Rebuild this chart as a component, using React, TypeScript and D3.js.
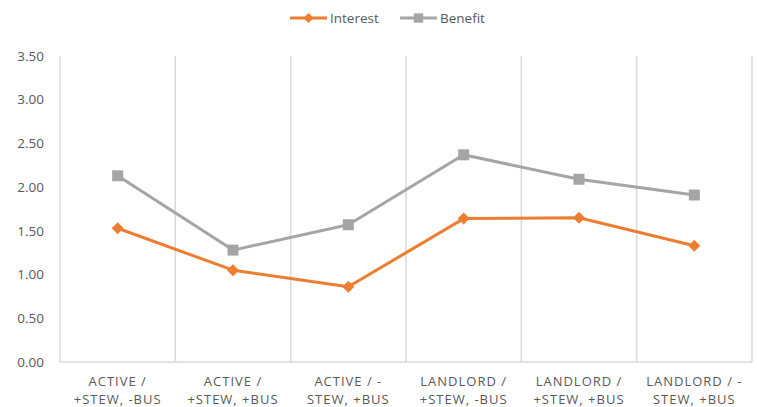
import React, { useEffect, useRef } from 'react';
import * as d3 from 'd3';

const categories = [
  ['ACTIVE /', '+STEW, -BUS'],
  ['ACTIVE /', '+STEW, +BUS'],
  ['ACTIVE / -', 'STEW, +BUS'],
  ['LANDLORD /', '+STEW, -BUS'],
  ['LANDLORD /', '+STEW, +BUS'],
  ['LANDLORD / -', 'STEW, +BUS'],
];
const interest = [1.53, 1.05, 0.86, 1.64, 1.65, 1.33];
const benefit = [2.13, 1.28, 1.57, 2.37, 2.09, 1.91];
const yTicks = [0, 0.5, 1, 1.5, 2, 2.5, 3, 3.5];

const W = 757;
const H = 407;
const FONT = '"Open Sans", "Noto Sans", sans-serif';

export default function App() {
  const ref = useRef<SVGSVGElement>(null);

  useEffect(() => {
    const svg = d3.select(ref.current);
    svg.selectAll('*').remove();

    const left = 60, right = 752, top = 56, bottom = 362;
    const x = d3.scaleBand<number>().domain(d3.range(categories.length)).range([left, right]);
    const y = d3.scaleLinear().domain([0, 3.5]).range([bottom, top]);

    // vertical grid lines at band edges
    const edges = d3.range(categories.length + 1).map(i => left + i * x.bandwidth());
    svg.append('g').selectAll('line').data(edges).enter().append('line')
      .attr('x1', d => d).attr('x2', d => d)
      .attr('y1', top).attr('y2', bottom)
      .attr('stroke', '#d9d9d9').attr('stroke-width', 1.5);

    svg.append('line')
      .attr('x1', left).attr('x2', right).attr('y1', bottom).attr('y2', bottom)
      .attr('stroke', '#d9d9d9').attr('stroke-width', 1.5);

    // y tick labels
    svg.append('g').selectAll('text').data(yTicks).enter().append('text')
      .attr('x', 44).attr('y', d => y(d)).attr('dy', '0.35em')
      .attr('text-anchor', 'end')
      .attr('font-family', FONT).attr('font-size', 13.5).attr('fill', '#595959')
      .text(d => d3.format('.2f')(d));

    // x labels
    const xl = svg.append('g').selectAll('text').data(categories).enter().append('text')
      .attr('text-anchor', 'middle')
      .attr('font-family', FONT).attr('font-size', 13).attr('fill', '#595959')
      .attr('letter-spacing', 1);
    xl.each(function (d, i) {
      const t = d3.select(this);
      const cx = (x(i) as number) + x.bandwidth() / 2;
      d.forEach((line, j) => {
        t.append('tspan').attr('x', cx).attr('y', 386 + j * 18).text(line);
      });
    });

    // diamond = square turned 45 degrees
    const diamond = (r: number) => `M0,${-r}L${r},0L0,${r}L${-r},0Z`;
    const square = (r: number) => `M${-r},${-r}H${r}V${r}H${-r}Z`;

    const series = [
      { name: 'Interest', values: interest, color: '#ed7d31', shape: diamond, r: 6 },
      { name: 'Benefit', values: benefit, color: '#a5a5a5', shape: square, r: 5.5 },
    ];

    const cxOf = (i: number) => (x(i) as number) + x.bandwidth() / 2;
    const line = d3.line<number>().x((_, i) => cxOf(i)).y(d => y(d));

    series.forEach(s => {
      svg.append('path').attr('d', line(s.values))
        .attr('fill', 'none').attr('stroke', s.color).attr('stroke-width', 3)
        .attr('stroke-linejoin', 'round');
      svg.append('g').selectAll('path').data(s.values).enter().append('path')
        .attr('transform', (d, i) => `translate(${cxOf(i)},${y(d)})`)
        .attr('d', s.shape(s.r))
        .attr('fill', s.color);
    });

    // legend
    const legendX = [290, 400];
    series.forEach((s, i) => {
      const g = svg.append('g').attr('transform', `translate(${legendX[i]},18)`);
      g.append('line').attr('x1', 0).attr('x2', 37).attr('stroke', s.color).attr('stroke-width', 3);
      g.append('path').attr('transform', 'translate(18.5,0)')
        .attr('d', s.shape(s.r * 0.85)).attr('fill', s.color);
      g.append('text').attr('x', 40).attr('dy', '0.35em')
        .attr('font-family', FONT).attr('font-size', 13.5).attr('fill', '#595959')
        .text(s.name);
    });
  }, []);

  return <svg ref={ref} width={W} height={H} style={{ position: 'absolute', left: 0, top: 0, background: '#fff' }} />;
}
